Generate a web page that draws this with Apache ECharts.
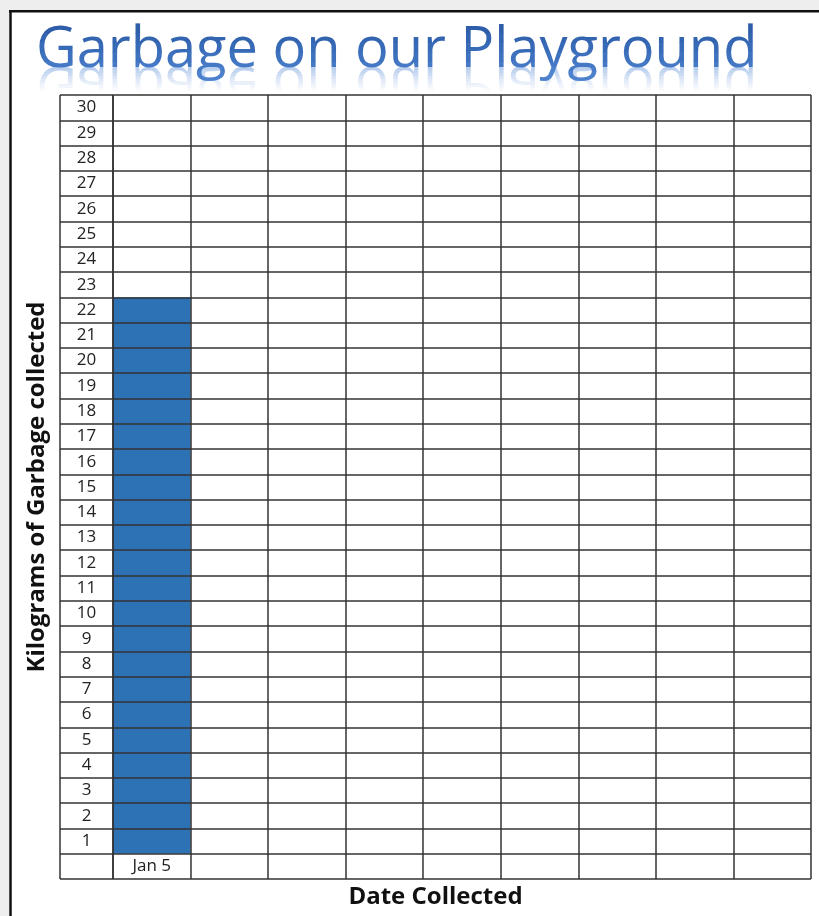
<!DOCTYPE html>
<html>
<head>
<meta charset="utf-8">
<script src="https://cdn.jsdelivr.net/npm/echarts@6/dist/echarts.min.js"></script>
<style>
  html, body { margin: 0; padding: 0; background: #fff; }
  #chart { width: 819px; height: 916px; }
</style>
</head>
<body>
<div id="chart"></div>
<script>
// data
const dates = ['Jan 5', '', '', '', '', '', '', '', '']
const kilograms = [22, '-', '-', '-', '-', '-', '-', '-', '-']
const rowLabels = ['', '1', '2', '3', '4', '5', '6', '7', '8', '9', '10',
  '11', '12', '13', '14', '15', '16', '17', '18', '19', '20',
  '21', '22', '23', '24', '25', '26', '27', '28', '29', '30']

const titleText = 'Garbage on our Playground'
const lineColor = '#333'
const font = '"Open Sans", sans-serif'
const titleFont = '56px ' + font

// title shading (text can't take a gradient fill, so it is drawn in clipped bands)
const titleBandColors = ['#2A57A1', '#2E5EA9', '#3364B0', '#386BB7', '#3E72BE', '#4579C5', '#4D81CC', '#5589D2']
const reflectOpacity = [0.42, 0.36, 0.3, 0.24, 0.18, 0.13, 0.08, 0.04]

const chart = echarts.init(document.getElementById('chart'))

const gridLines = { show: true, lineStyle: { color: lineColor, width: 1.5 } }

function renderTitle() {
  const children = []
  const top = 14, bandH = 9.5
  titleBandColors.forEach((c, i) => {
    children.push({
      type: 'text',
      silent: true,
      x: 0,
      y: 0,
      style: {
        text: titleText, x: 36, y: 51, font: titleFont,
        textAlign: 'left', textVerticalAlign: 'middle', verticalAlign: 'middle', fill: c
      },
      clipPath: { type: 'rect', shape: { x: 0, y: top + i * bandH, width: 819, height: bandH + 0.5 } }
    })
  })
  // mirrored copy under the baseline, fading out
  const mirror = 67, rH = 3
  reflectOpacity.forEach((o, i) => {
    children.push({
      type: 'text',
      silent: true,
      x: 0,
      y: mirror,
      scaleY: -1,
      style: {
        text: titleText, x: 36, y: 51 - mirror, font: titleFont,
        textAlign: 'left', textVerticalAlign: 'middle', verticalAlign: 'middle',
        fill: '#5A8CD6', opacity: o
      },
      clipPath: { type: 'rect', shape: { x: 0, y: -(i + 1) * rH, width: 819, height: rH } }
    })
  })
  return { type: 'group', children }
}

chart.setOption({
  animation: false,
  backgroundColor: '#fff',
  grid: [
    // main table
    { left: 113, right: 8, top: 95, bottom: 37 },
    // label column
    { left: 60, width: 53, top: 95, bottom: 37 }
  ],
  xAxis: [
    {
      gridIndex: 0,
      type: 'category',
      data: dates,
      z: 3,
      axisLine: { show: false },
      axisTick: { show: false },
      splitLine: gridLines,
      axisLabel: {
        inside: true,
        margin: 12.6,
        verticalAlign: 'middle',
        color: '#222',
        fontFamily: font,
        fontSize: 17
      }
    },
    {
      gridIndex: 1,
      type: 'category',
      data: [''],
      z: 3,
      axisLine: { show: false },
      axisTick: { show: false },
      axisLabel: { show: false },
      splitLine: gridLines
    }
  ],
  yAxis: [
    {
      gridIndex: 0,
      type: 'value',
      min: -1,
      max: 30,
      interval: 1,
      z: 3,
      axisLine: { show: false },
      axisTick: { show: false },
      axisLabel: { show: false },
      splitLine: gridLines
    },
    {
      gridIndex: 1,
      type: 'value',
      min: -1,
      max: 30,
      interval: 1,
      z: 3,
      axisLine: { show: false },
      axisTick: { show: false },
      axisLabel: { show: false },
      splitLine: gridLines,
      name: 'Kilograms of Garbage collected',
      nameLocation: 'middle',
      nameRotate: 90,
      nameGap: 11,
      nameTextStyle: {
        color: '#111',
        fontFamily: font,
        fontWeight: 'bold',
        fontSize: 24
      }
    },
    {
      gridIndex: 1,
      type: 'category',
      data: rowLabels,
      position: 'left',
      axisLine: { show: false },
      axisTick: { show: false },
      splitLine: { show: false },
      axisLabel: {
        inside: true,
        margin: 26.5,
        align: 'center',
        color: '#222',
        fontFamily: font,
        fontSize: 17
      }
    }
  ],
  series: [
    {
      type: 'bar',
      xAxisIndex: 0,
      yAxisIndex: 0,
      data: kilograms,
      barWidth: '100%',
      itemStyle: { color: '#2E72B6' }
    },
    {
      type: 'custom',
      coordinateSystem: 'none',
      silent: true,
      z: 10,
      data: [0],
      renderItem: renderTitle
    }
  ],
  graphic: [
    { type: 'rect', silent: true, shape: { x: 0, y: 0, width: 819, height: 10 }, style: { fill: '#EEEEEE' } },
    { type: 'rect', silent: true, shape: { x: 0, y: 0, width: 9, height: 916 }, style: { fill: '#EEEEEE' } },
    { type: 'line', silent: true, shape: { x1: 9, y1: 11.2, x2: 819, y2: 11.2 }, style: { stroke: '#111', lineWidth: 2.5 } },
    { type: 'line', silent: true, shape: { x1: 10.5, y1: 10, x2: 10.5, y2: 916 }, style: { stroke: '#111', lineWidth: 2.5 } },
    {
      type: 'text',
      silent: true,
      x: 435.5,
      y: 897,
      style: {
        text: 'Date Collected',
        font: 'bold 24px ' + font,
        textAlign: 'center',
        verticalAlign: 'middle',
        fill: '#111'
      }
    }
  ]
})
</script>
</body>
</html>
